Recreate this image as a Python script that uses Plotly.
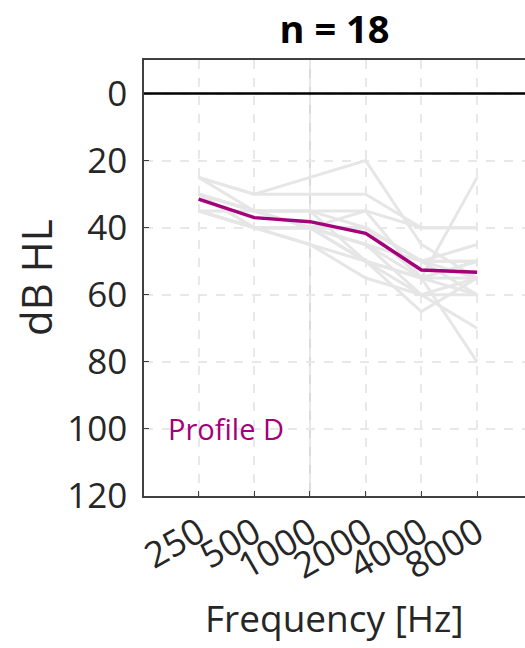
import plotly.graph_objects as go

# audiometric frequencies (Hz) and their position on the category axis
freqs = ["250", "500", "1000", "2000", "4000", "8000"]
freq_pos = [1, 2, 3, 4, 5, 6]

# individual audiograms (dB HL)
subjects = [
    [25, 30, 25, 20, 45, 55],
    [25, 30, 30, 30, 40, 40],
    [25, 35, 35, 35, 55, 25],
    [30, 35, 40, 35, 40, 40],
    [30, 35, 35, 40, 50, 50],
    [30, 40, 40, 45, 55, 55],
    [30, 35, 40, 45, 60, 70],
    [35, 40, 45, 50, 55, 60],
    [35, 40, 40, 50, 65, 55],
    [35, 40, 40, 40, 50, 60],
    [30, 35, 35, 50, 55, 80],
    [35, 40, 40, 50, 55, 50],
    [30, 40, 40, 40, 50, 55],
    [35, 40, 40, 40, 50, 50],
    [35, 40, 40, 50, 60, 55],
    [30, 35, 40, 45, 50, 45],
    [35, 40, 45, 55, 60, 60],
    [35, 35, 40, 40, 55, 50],
]

# profile mean
profile_d = [31.5, 37, 38.2, 41.7, 52.6, 53.3]

y_ticks = [0, 20, 40, 60, 80, 100, 120]

FONT = "Open Sans"
MAGENTA = "#a3007a"

fig = go.Figure()

for s in subjects:
    fig.add_trace(go.Scatter(
        x=freq_pos, y=s, mode="lines",
        line=dict(color="#e6e6e6", width=3),
        showlegend=False, hoverinfo="skip"
    ))

fig.add_trace(go.Scatter(
    x=freq_pos, y=profile_d, mode="lines",
    line=dict(color=MAGENTA, width=3.5),
    showlegend=False
))

# 1 kHz reference and 0 dB line
fig.add_shape(type="line", xref="x", yref="paper", x0=3, x1=3, y0=0, y1=1,
              line=dict(color="#cfcfcf", width=1.5), layer="below")
fig.add_shape(type="line", xref="paper", yref="y", x0=0, x1=1, y0=0, y1=0,
              line=dict(color="black", width=2.5))

fig.add_annotation(x=0.42, y=100, xref="x", yref="y", text="Profile D",
                   showarrow=False, xanchor="left", yanchor="middle",
                   font=dict(family=FONT, size=29, color=MAGENTA))

# axis titles placed by hand
fig.add_annotation(x=0.5, y=-0.342, xref="paper", yref="paper",
                   text="Frequency [Hz]", showarrow=False,
                   xanchor="center", yanchor="bottom",
                   font=dict(family=FONT, size=37, color="#262626"))
fig.add_annotation(x=-0.286, y=0.5, xref="paper", yref="paper",
                   text="dB HL", showarrow=False, textangle=-90,
                   xanchor="center", yanchor="middle",
                   font=dict(family=FONT, size=42, color="#262626"))

fig.update_layout(
    width=525, height=648,
    margin=dict(l=144, r=0, t=60, b=152),
    plot_bgcolor="white", paper_bgcolor="white",
    font=dict(family=FONT, color="#262626"),
    title=dict(text="<b>n = 18</b>", x=0.5, xref="paper", xanchor="center",
               y=0.954, yanchor="middle",
               font=dict(family=FONT, size=38, color="black")),
    xaxis=dict(
        range=[0.02, 6.86], tickvals=freq_pos, ticktext=freqs, tickangle=-30,
        tickfont=dict(size=36), showgrid=True, gridcolor="#e8e8e8",
        griddash="dash", gridwidth=1.5, zeroline=False,
        showline=True, linecolor="#404040", linewidth=1.5, mirror=True,
        ticks="inside", ticklen=5, tickcolor="#404040",
    ),
    yaxis=dict(
        range=[120, -10], tickvals=y_ticks, tickfont=dict(size=35),
        showgrid=True, gridcolor="#e8e8e8", griddash="dash", gridwidth=1.5,
        zeroline=False, showline=True, linecolor="#404040", linewidth=1.5,
        ticks="inside", ticklen=5, tickcolor="#404040", ticklabelstandoff=8,
    ),
)

# drop the default page margin so the figure sits at the window's corner
fig.write_html("out.html",
               config={"displayModeBar": False},
               post_script="document.body.style.margin='0';"
                           "document.body.style.overflow='hidden';")
